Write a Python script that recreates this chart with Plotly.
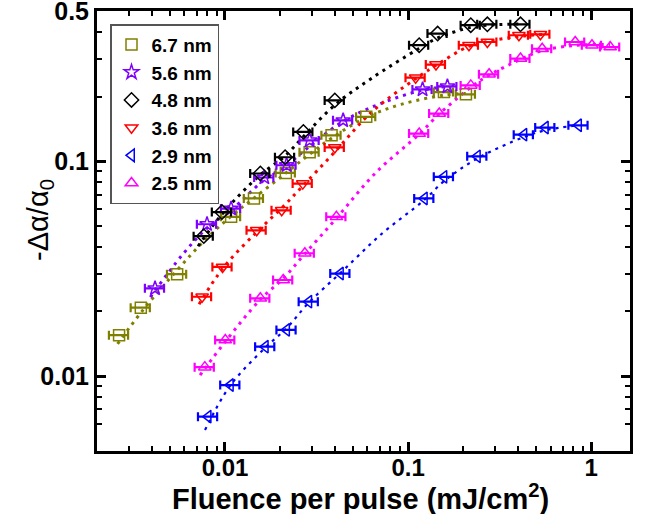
import plotly.graph_objects as go

# ---------------- data ----------------
series_names = ["6.7 nm", "5.6 nm", "4.8 nm", "3.6 nm", "2.9 nm", "2.5 nm"]

x67 = [0.00264, 0.00347, 0.00548, 0.0108, 0.0144, 0.0215, 0.0290, 0.0382, 0.0591, 0.157, 0.207]
y67 = [0.0155, 0.0208, 0.0298, 0.0551, 0.0671, 0.0882, 0.110, 0.132, 0.161, 0.210, 0.205]

x56 = [0.00415, 0.00798, 0.0108, 0.0164, 0.0217, 0.0290, 0.0442, 0.120, 0.164]
y56 = [0.0256, 0.0509, 0.0602, 0.0840, 0.0958, 0.125, 0.155, 0.216, 0.223]

x48 = [0.00766, 0.00963, 0.0156, 0.0213, 0.0268, 0.0398, 0.115, 0.145, 0.220, 0.271, 0.411]
y48 = [0.0448, 0.058, 0.0877, 0.1044, 0.137, 0.192, 0.347, 0.393, 0.430, 0.434, 0.434]

x36 = [0.0075, 0.0097, 0.0149, 0.0204, 0.0266, 0.0398, 0.110, 0.142, 0.215, 0.271, 0.403, 0.528]
y36 = [0.0234, 0.0322, 0.0477, 0.0591, 0.0787, 0.116, 0.245, 0.282, 0.347, 0.359, 0.386, 0.390]

x29 = [0.00809, 0.0107, 0.0166, 0.0217, 0.0287, 0.0427, 0.1227, 0.157, 0.239, 0.429, 0.562, 0.853]
y29 = [0.00647, 0.00908, 0.0137, 0.0164, 0.0222, 0.0300, 0.0671, 0.0846, 0.1054, 0.133, 0.1435, 0.147]

x25 = [0.00776, 0.01004, 0.0156, 0.0208, 0.0273, 0.0406, 0.115, 0.148, 0.220, 0.277, 0.411, 0.540, 0.818, 1.01, 1.27]
y25 = [0.0110, 0.0147, 0.0230, 0.0280, 0.0373, 0.0551, 0.1345, 0.1667, 0.2255, 0.254, 0.3006, 0.334, 0.359, 0.347, 0.340]

# fit curves (dotted)
fx67 = [0.00259, 0.00350, 0.00548, 0.00778, 0.0108, 0.01438, 0.02146, 0.02897, 0.03815, 0.0591, 0.0916, 0.157, 0.2066]
fy67 = [0.0141, 0.0199, 0.0311, 0.0430, 0.0555, 0.0673, 0.0880, 0.1078, 0.128, 0.1602, 0.184, 0.203, 0.207]

fx56 = [0.00391, 0.00584, 0.00798, 0.0108, 0.0163, 0.0217, 0.029, 0.0443, 0.0713, 0.119, 0.165]
fy56 = [0.0233, 0.0366, 0.0488, 0.0591, 0.0816, 0.0958, 0.1174, 0.1535, 0.186, 0.214, 0.223]

fx48 = [0.00713, 0.00963, 0.0155, 0.0212, 0.0269, 0.0396, 0.0630, 0.1148, 0.145, 0.220, 0.271, 0.411]
fy48 = [0.0402, 0.0567, 0.0861, 0.1055, 0.1306, 0.182, 0.243, 0.335, 0.375, 0.420, 0.430, 0.436]

fx36 = [0.00722, 0.00975, 0.0149, 0.0204, 0.0265, 0.0396, 0.063, 0.1105, 0.142, 0.2146, 0.272, 0.401, 0.562]
fy36 = [0.0216, 0.0318, 0.0468, 0.0605, 0.0765, 0.110, 0.169, 0.243, 0.2796, 0.343, 0.361, 0.381, 0.390]

fx29 = [0.00778, 0.01065, 0.0165, 0.0217, 0.0286, 0.0438, 0.0713, 0.1222, 0.157, 0.240, 0.427, 0.562, 0.849]
fy29 = [0.00561, 0.00899, 0.0135, 0.0167, 0.0219, 0.0308, 0.0457, 0.0659, 0.0807, 0.1033, 0.1294, 0.1394, 0.147]

fx25 = [0.00731, 0.0100, 0.0155, 0.0209, 0.0272, 0.0406, 0.067, 0.1148, 0.1474, 0.220, 0.2755, 0.411, 0.542, 0.818, 1.268]
fy25 = [0.0101, 0.0144, 0.0226, 0.0286, 0.0369, 0.0543, 0.0889, 0.1335, 0.1655, 0.221, 0.251, 0.298, 0.328, 0.346, 0.350]

x_tickvals = [0.01, 0.1, 1]
x_ticktext = ["0.01", "0.1", "1"]
y_tickvals = [0.01, 0.1, 0.5]
y_ticktext = ["0.01", "0.1", "0.5"]
x_minor = [0.003, 0.004, 0.005, 0.006, 0.007, 0.008, 0.009,
           0.02, 0.03, 0.04, 0.05, 0.06, 0.07, 0.08, 0.09,
           0.2, 0.3, 0.4, 0.5, 0.6, 0.7, 0.8, 0.9]
y_minor = [0.006, 0.007, 0.008, 0.009,
           0.02, 0.03, 0.04, 0.05, 0.06, 0.07, 0.08, 0.09,
           0.2, 0.3, 0.4]

# ---------------- styles ----------------
colors = ["#808000", "#8000FF", "#000000", "#FF0000", "#0000FF", "#FF00FF"]
symbols = ["square-open", "star-open", "diamond-open", "triangle-down-open",
           "triangle-left-open", "triangle-up-open"]
data_x = [x67, x56, x48, x36, x29, x25]
data_y = [y67, y56, y48, y36, y29, y25]
fit_x = [fx67, fx56, fx48, fx36, fx29, fx25]
fit_y = [fy67, fy56, fy48, fy36, fy29, fy25]
fit_w = [3, 3, 3, 3, 2.2, 3]

FONT = "Liberation Sans, Arial, sans-serif"

fig = go.Figure()

for i in range(6):
    fig.add_trace(go.Scatter(
        x=fit_x[i], y=fit_y[i], mode="lines", line_shape="spline",
        line=dict(color=colors[i], width=fit_w[i], dash="3px,5px"),
        showlegend=False, hoverinfo="skip"))

for i in range(6):
    fig.add_trace(go.Scatter(
        x=data_x[i], y=data_y[i], mode="markers",
        name=series_names[i],
        marker=dict(symbol=symbols[i], size=11, color=colors[i],
                    line=dict(color=colors[i], width=1.5)),
        error_x=dict(type="percent", value=12, color=colors[i],
                     thickness=2.2, width=4.5)))

axis_common = dict(
    type="log", showgrid=False, zeroline=False, automargin=False,
    showline=True, linecolor="black", linewidth=3, mirror="ticks",
    ticks="inside", ticklen=9, tickwidth=2.5, tickcolor="black",
    ticklabeloverflow="allow",
    minor=dict(ticks="inside", ticklen=5, tickwidth=2, tickcolor="black", showgrid=False),
)

fig.update_xaxes(**axis_common, range=[-2.699, 0.212], ticklabelstandoff=-7,
                 tickfont=dict(family=FONT, size=24, color="black", weight="bold"),
                 tickvals=x_tickvals, ticktext=x_ticktext)
fig.update_xaxes(minor_tickvals=x_minor)
fig.update_yaxes(**axis_common, range=[-2.349, -0.3005], ticklabelstandoff=0,
                 tickfont=dict(family=FONT, size=25, color="black", weight="bold"),
                 tickvals=y_tickvals, ticktext=y_ticktext)
fig.update_yaxes(minor_tickvals=y_minor)

fig.add_annotation(
    text="Fluence per pulse (mJ/cm<sup>2</sup>)", xref="paper", yref="paper",
    x=0.494, y=-0.104, xanchor="center", yanchor="middle", showarrow=False,
    font=dict(family=FONT, size=29, color="black", weight="bold"))
fig.add_annotation(
    text="-Δα/α<sub>0</sub>", xref="paper", yref="paper",
    x=-0.107, y=0.525, xanchor="center", yanchor="middle", showarrow=False,
    textangle=-90,
    font=dict(family=FONT, size=29, color="black"))

fig.update_layout(
    width=647, height=514,
    margin=dict(l=97, r=17, t=11, b=63),
    paper_bgcolor="white", plot_bgcolor="white",
    legend=dict(x=0.0244, y=0.97, xanchor="left", yanchor="top",
                bordercolor="#555555", borderwidth=1.5, bgcolor="white",
                font=dict(family=FONT, size=19, color="black", weight="bold"),
                itemwidth=30),
    showlegend=True,
)

# remove the default 8px page margin so the figure fills the window exactly
fig.write_html("out.html", config={"displayModeBar": False},
               post_script="document.body.style.margin='0px';document.body.style.overflow='hidden';")
